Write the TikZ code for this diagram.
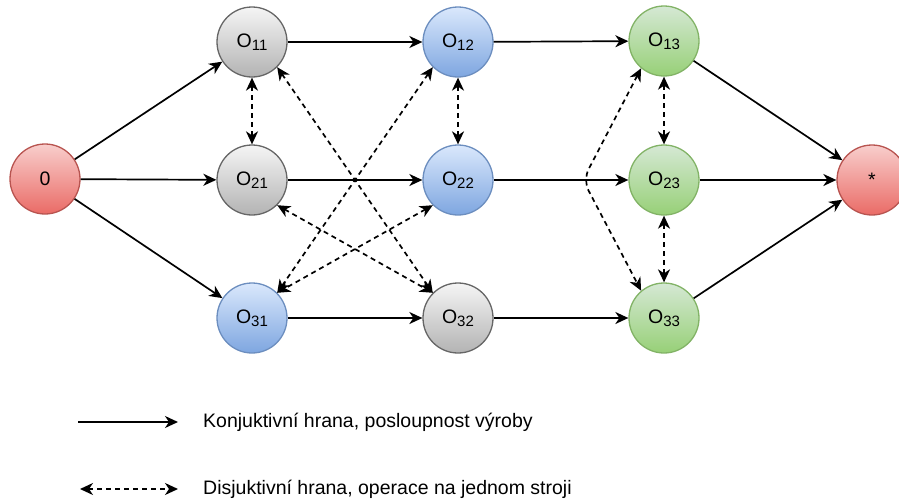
\documentclass[tikz,border=0pt]{standalone}
\usepackage{fontspec}
\setmainfont{Liberation Sans}
\usetikzlibrary{arrows.meta}
\definecolor{redT}{HTML}{F8CECC}
\definecolor{redB}{HTML}{EA6B66}
\definecolor{redS}{HTML}{B85450}
\definecolor{grayT}{HTML}{F5F5F5}
\definecolor{grayB}{HTML}{B3B3B3}
\definecolor{grayS}{HTML}{666666}
\definecolor{blueT}{HTML}{DAE8FC}
\definecolor{blueB}{HTML}{7EA6E0}
\definecolor{blueS}{HTML}{6C8EBF}
\definecolor{greenT}{HTML}{D5E8D4}
\definecolor{greenB}{HTML}{97D077}
\definecolor{greenS}{HTML}{82B366}
\newcommand{\Op}[1]{O\raisebox{-3pt}{\fontsize{15}{15}\selectfont #1}}
\tikzset{
  op/.style={circle, minimum size=70pt, inner sep=0pt, line width=1.3pt,
    font=\fontsize{19.5}{22}\selectfont},
  redop/.style={op, draw=redS, top color=redT, bottom color=redB},
  grayop/.style={op, draw=grayS, top color=grayT, bottom color=grayB},
  blueop/.style={op, draw=blueS, top color=blueT, bottom color=blueB},
  greenop/.style={op, draw=greenS, top color=greenT, bottom color=greenB},
  conj/.style={line width=1.7pt, -{Stealth[length=13pt,width=12pt,inset=4pt]}},
  disj/.style={line width=1.7pt, dash pattern=on 5pt off 4pt,
    {Stealth[length=13pt,width=12pt,inset=4pt]}-{Stealth[length=13pt,width=12pt,inset=4pt]}},
  legtext/.style={anchor=base west, inner sep=0pt, font=\fontsize{19.5}{22}\selectfont},
}
\begin{document}
\begin{tikzpicture}[x=1pt,y=-1pt]
\useasboundingbox (0,0) rectangle (899,501);
\clip (0,0) rectangle (899,501);
% nodes
\node[redop] (n0) at (45,179) {0};
\node[grayop] (o11) at (252,42) {\Op{11}};
\node[blueop] (o12) at (458,42) {\Op{12}};
\node[greenop] (o13) at (664,41) {\Op{13}};
\node[grayop] (o21) at (252,180) {\Op{21}};
\node[blueop] (o22) at (458,180) {\Op{22}};
\node[greenop] (o23) at (664,180) {\Op{23}};
\node[blueop] (o31) at (252,318) {\Op{31}};
\node[grayop] (o32) at (458,318) {\Op{32}};
\node[greenop] (o33) at (664,318) {\Op{33}};
\node[redop] (nst) at (872,180) {*};
% conjunctive edges
\draw[conj] (n0) -- (o11);
\draw[conj] (n0) -- (o21);
\draw[conj] (n0) -- (o31);
\draw[conj] (o11) -- (o12);
\draw[conj] (o12) -- (o13);
\draw[conj] (o21) -- (o22);
\draw[conj] (o22) -- (o23);
\draw[conj] (o31) -- (o32);
\draw[conj] (o32) -- (o33);
\draw[conj] (o13) -- (nst);
\draw[conj] (o23) -- (nst);
\draw[conj] (o33) -- (nst);
% disjunctive edges
\draw[disj] (o11) -- (o21);
\draw[disj] (o12) -- (o22);
\draw[disj] (o13) -- (o23);
\draw[disj] (o23) -- (o33);
\draw[disj] (o11.-45) -- (o32.135);
\draw[disj] (o21.-45) -- (o32.135);
\draw[disj] (o12.-135) -- (o31.45);
\draw[disj] (o22.-135) -- (o31.45);
\coordinate (bend) at (583,180);
\draw[disj, rounded corners=12pt] (o13.-130) -- (bend) -- (o33.130);
% legend
\coordinate (l1a) at (78,422);
\coordinate (l1b) at (178,422);
\draw[conj] (l1a) -- (l1b);
\node[legtext] (t1) at (203,427) {Konjuktivní hrana, posloupnost výroby};
\coordinate (l2a) at (80,489);
\coordinate (l2b) at (178,489);
\draw[disj] (l2a) -- (l2b);
\node[legtext] (t2) at (203,494) {Disjuktivní hrana, operace na jednom stroji};
\end{tikzpicture}
\end{document}
